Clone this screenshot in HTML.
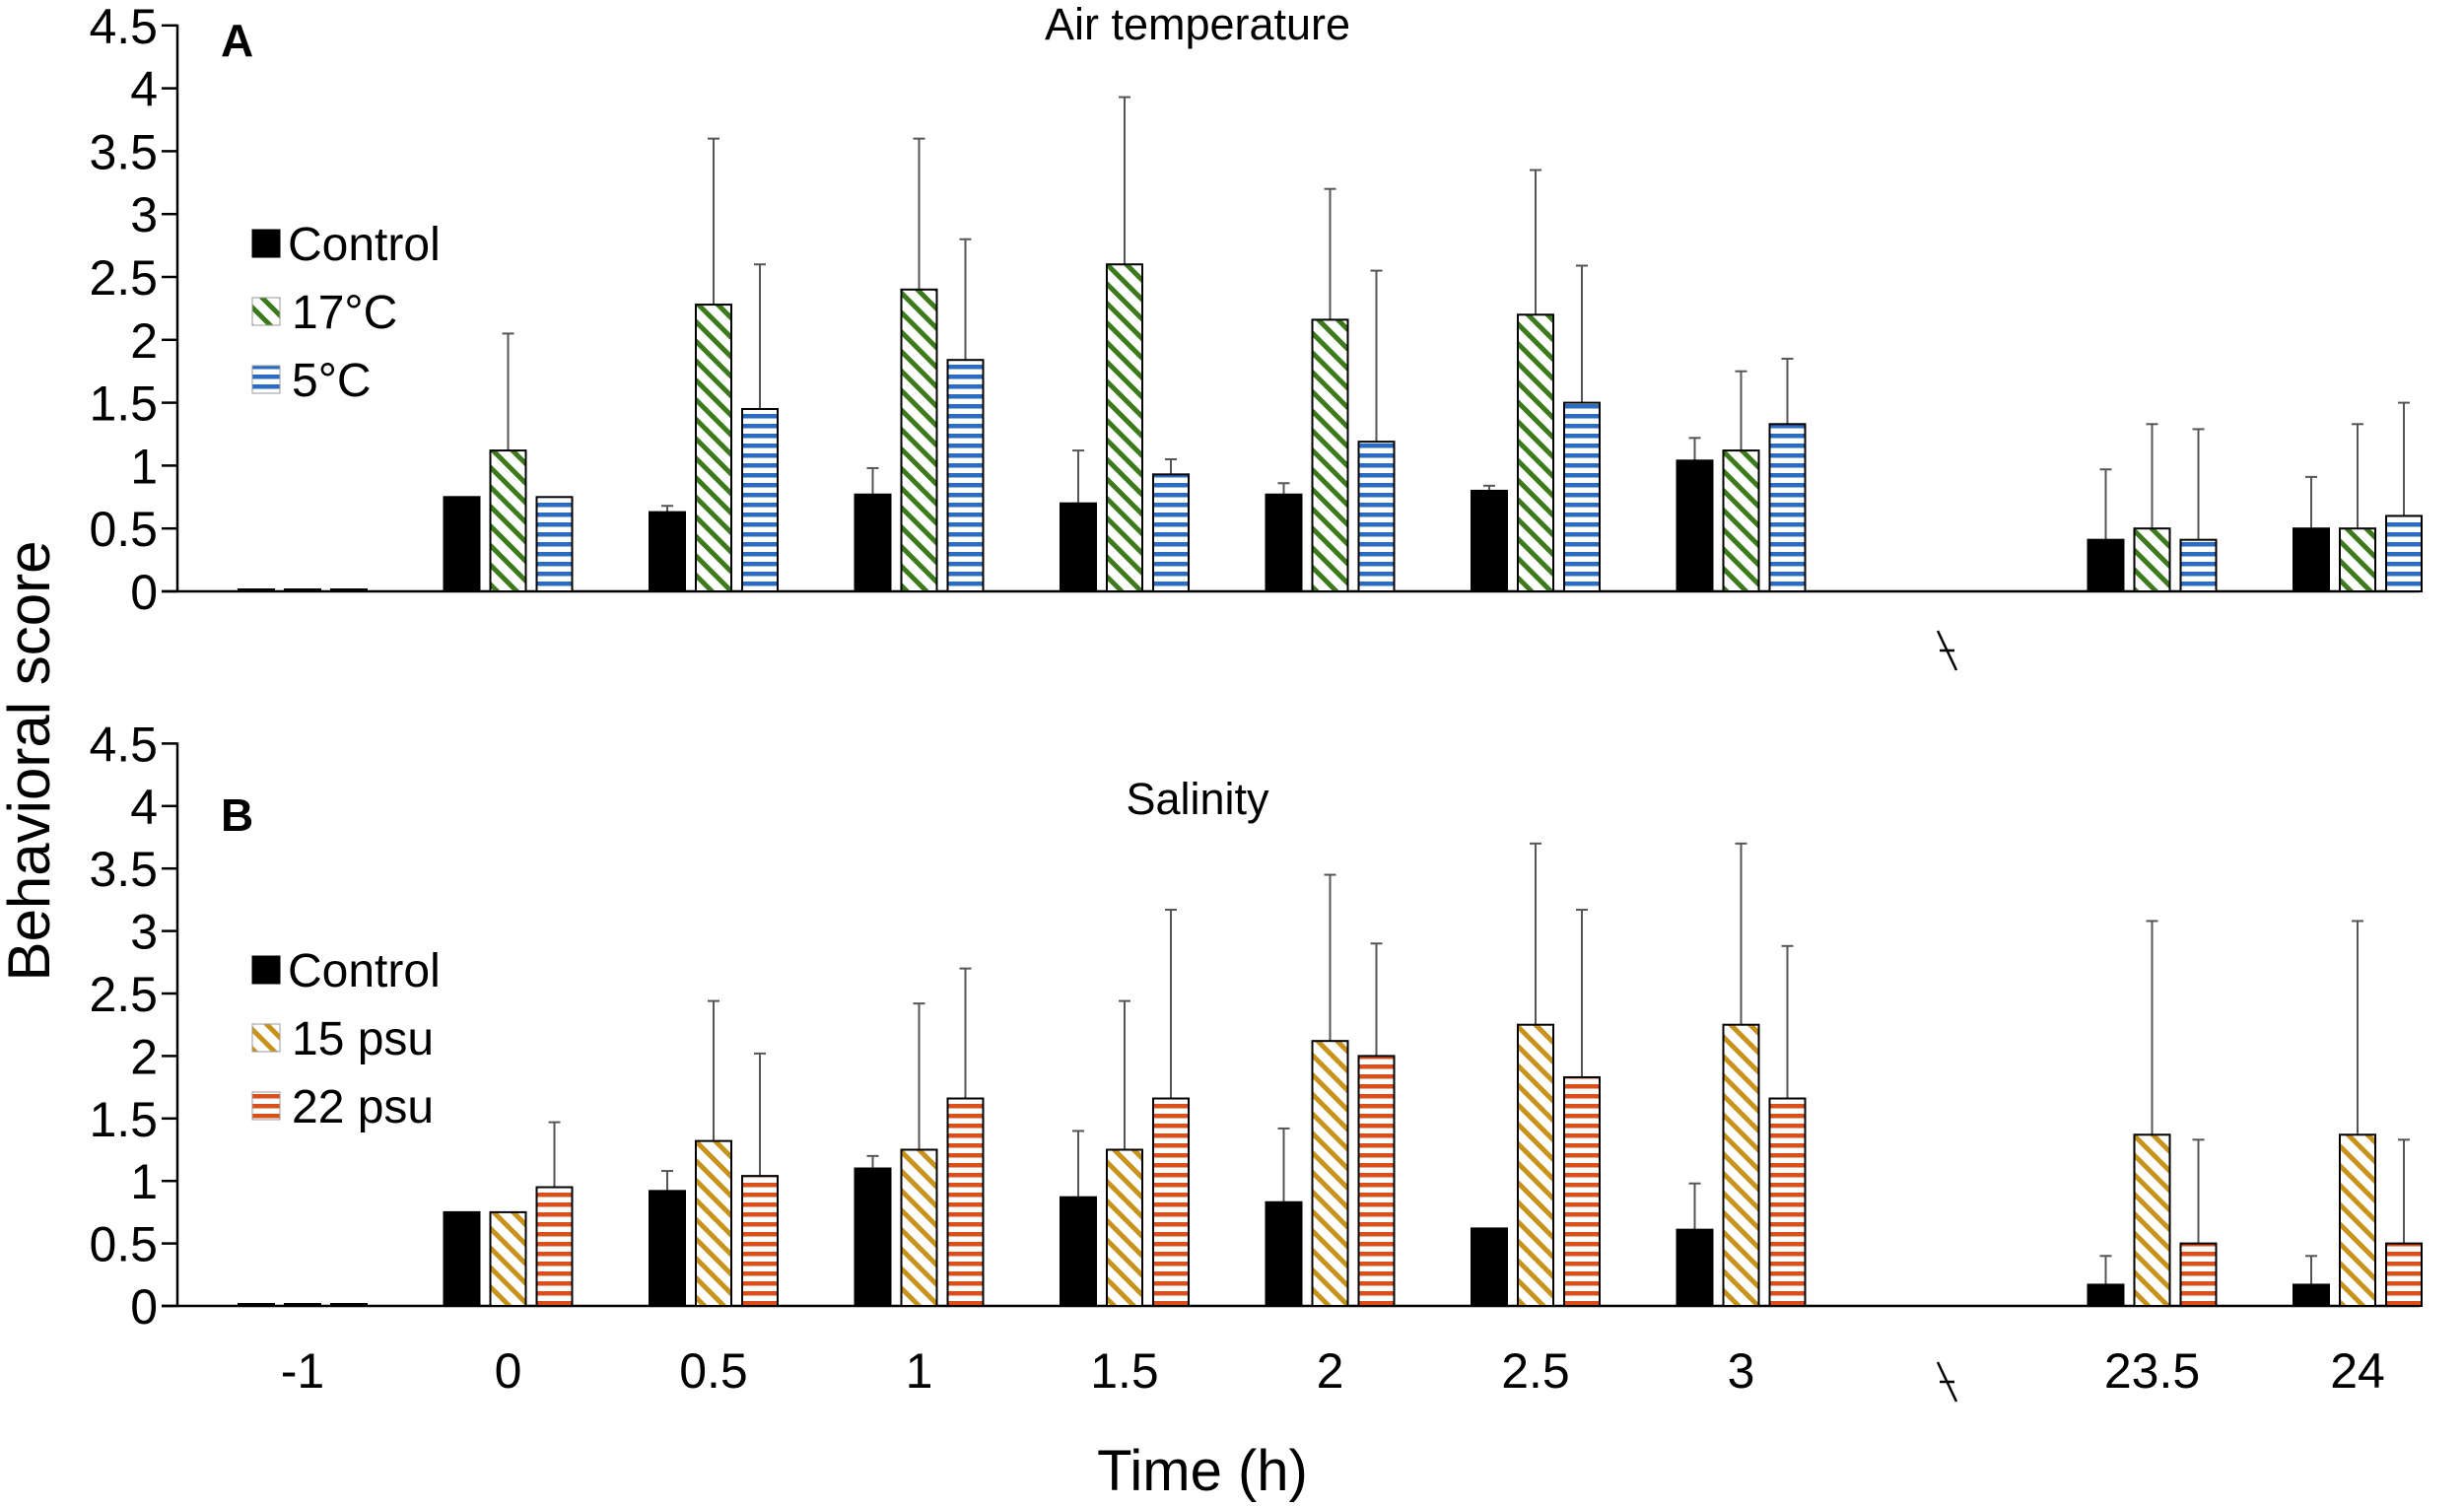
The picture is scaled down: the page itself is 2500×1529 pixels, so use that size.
<!DOCTYPE html>
<html><head><meta charset="utf-8"><style>
html,body{margin:0;padding:0;background:#fff;}
svg{display:block;font-family:"Liberation Sans",Arial,sans-serif;}
</style></head><body>
<svg id="c" width="2500" height="1529" viewBox="0 0 2500 1529" xmlns="http://www.w3.org/2000/svg">
<defs>
<pattern id="pg" patternUnits="userSpaceOnUse" width="14" height="14" patternTransform="rotate(-45)"><rect width="14" height="14" fill="#fff"/><rect width="5" height="14" fill="#3d7a1c"/></pattern>
<pattern id="pb" patternUnits="userSpaceOnUse" width="10" height="10"><rect width="10" height="10" fill="#fff"/><rect y="0" width="10" height="4.5" fill="#2a6cc2"/></pattern>
<pattern id="py" patternUnits="userSpaceOnUse" width="14" height="14" patternTransform="rotate(-45)"><rect width="14" height="14" fill="#fff"/><rect width="5" height="14" fill="#c8931c"/></pattern>
<pattern id="po" patternUnits="userSpaceOnUse" width="10" height="10"><rect width="10" height="10" fill="#fff"/><rect y="0" width="10" height="4.5" fill="#d9501c"/></pattern>
</defs>
<g id="g"></g>
</svg>
<script>
var g=document.getElementById('g'),s='';
function panel(y0,unit,data,fills,title,ty,letter,ly,leg,legy){
 s+='<line x1="180" y1="'+(y0-9*unit-1)+'" x2="180" y2="'+y0+'" stroke="#000" stroke-width="2.5"/>';
 s+='<line x1="164" y1="'+y0+'" x2="2455" y2="'+y0+'" stroke="#000" stroke-width="2.5"/>';
 for(var i=0;i<=9;i++){var y=y0-i*unit;
  s+='<line x1="164" y1="'+y+'" x2="180" y2="'+y+'" stroke="#000" stroke-width="2.5"/>';
  s+='<text x="160" y="'+(y+18)+'" font-size="50" text-anchor="end">'+(i/2)+'</text>';}
 for(var k=0;k<11;k++){if(k==8)continue;var d=data[k>8?k-1:k],cx=307+208.5*k;
  for(var j=0;j<3;j++){var v=d[j*2],e=d[j*2+1],x=cx+(j-1)*47-18;
   var h=Math.max(v*2*unit,2),y=y0-h;
   if(e){var ey=y0-e*2*unit;s+='<line x1="'+(x+18)+'" y1="'+ey+'" x2="'+(x+18)+'" y2="'+y+'" stroke="#555" stroke-width="2"/><line x1="'+(x+12)+'" y1="'+ey+'" x2="'+(x+24)+'" y2="'+ey+'" stroke="#555" stroke-width="2"/>';}
   s+='<rect x="'+x+'" y="'+y+'" width="36" height="'+h+'" fill="'+(j==0?'#000':fills[j-1])+'" stroke="#000" stroke-width="2"/>';}}
 s+='<text x="1215" y="'+ty+'" font-size="45" text-anchor="middle">'+title+'</text>';
 s+='<text x="224" y="'+ly+'" font-size="46" font-weight="bold">'+letter+'</text>';
 var f=['#000',fills[0],fills[1]];
 for(var j=0;j<3;j++){var yy=legy+j*69;
  s+='<rect x="256" y="'+(yy-14)+'" width="28" height="28" fill="'+f[j]+'" stroke="'+(j?'#999':'#000')+'" stroke-width="1"/>';
  s+='<text x="'+(j==0?292:296)+'" y="'+(yy+17)+'" font-size="48">'+leg[j]+'</text>';}
}
var A=[[0,0,0,0,0,0],[0.75,0,1.12,2.05,0.75,0],[0.63,0.68,2.28,3.6,1.45,2.6],[0.77,0.98,2.4,3.6,1.84,2.8],[0.7,1.12,2.6,3.93,0.93,1.05],[0.77,0.86,2.16,3.2,1.19,2.55],[0.8,0.84,2.2,3.35,1.5,2.59],[1.04,1.22,1.12,1.75,1.33,1.85],[0.41,0.97,0.5,1.33,0.41,1.29],[0.5,0.91,0.5,1.33,0.6,1.5]];
var B=[[0,0,0,0,0,0],[0.75,0,0.75,0,0.95,1.47],[0.92,1.08,1.32,2.44,1.04,2.02],[1.1,1.2,1.25,2.42,1.66,2.7],[0.87,1.4,1.25,2.44,1.66,3.17],[0.83,1.42,2.12,3.45,2.0,2.9],[0.62,0,2.25,3.7,1.83,3.17],[0.61,0.98,2.25,3.7,1.66,2.88],[0.17,0.4,1.37,3.08,0.5,1.33],[0.17,0.4,1.37,3.08,0.5,1.33]];
panel(600,63.8,A,['url(#pg)','url(#pb)'],'Air temperature',40,'A',57,['Control','17°C','5°C'],247);
panel(1325,63.4,B,['url(#py)','url(#po)'],'Salinity',826,'B',843,['Control','15 psu','22 psu'],984);
var xl=['-1','0','0.5','1','1.5','2','2.5','3','','23.5','24'];
for(var k=0;k<11;k++){if(xl[k])s+='<text x="'+(307+208.5*k)+'" y="1408" font-size="50" text-anchor="middle">'+xl[k]+'</text>';}
function brk(y){s+='<line x1="1966" y1="'+y+'" x2="1985" y2="'+(y+40)+'" stroke="#000" stroke-width="2.5"/><line x1="1968" y1="'+(y+20)+'" x2="1983" y2="'+(y+20)+'" stroke="#000" stroke-width="2.5"/>';}
brk(640);brk(1382);
s+='<text x="1220" y="1512" font-size="58" text-anchor="middle">Time (h)</text>';
s+='<text transform="translate(50,772) rotate(-90)" font-size="60" text-anchor="middle">Behavioral  score</text>';
g.innerHTML=s;
</script>
</body></html>
